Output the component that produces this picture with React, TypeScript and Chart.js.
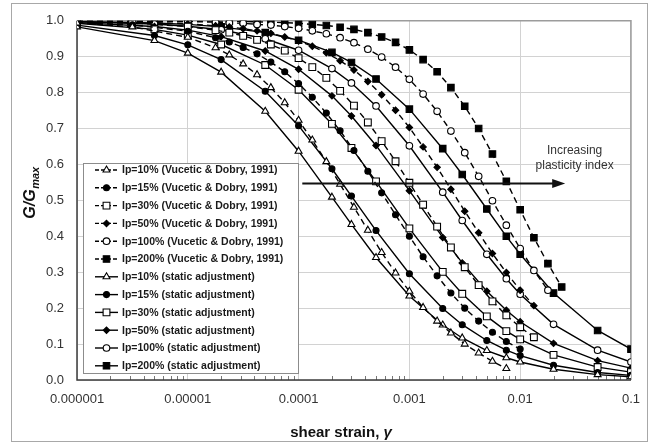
import React, { useEffect, useRef } from 'react';
import { Chart, registerables } from 'chart.js';
import { drawPoint } from 'chart.js/helpers';

Chart.register(...registerables);

// ---------- data ----------
const strainStatic = [1e-6, 5e-6, 1e-5, 2e-5, 5e-5, 1e-4, 2e-4, 3e-4, 5e-4, 1e-3, 2e-3, 3e-3, 5e-3, 7.5e-3, 1e-2, 2e-2, 5e-2, 1e-1];
const static10 = [0.983, 0.945, 0.910, 0.857, 0.748, 0.637, 0.509, 0.433, 0.341, 0.234, 0.153, 0.117, 0.082, 0.062, 0.050, 0.030, 0.015, 0.009];
const static15 = [0.988, 0.959, 0.933, 0.892, 0.804, 0.708, 0.588, 0.512, 0.416, 0.296, 0.199, 0.154, 0.110, 0.083, 0.068, 0.041, 0.021, 0.013];
const static30 = [0.993, 0.976, 0.960, 0.934, 0.877, 0.808, 0.713, 0.646, 0.553, 0.422, 0.301, 0.240, 0.177, 0.136, 0.113, 0.070, 0.036, 0.022];
const static50 = [0.995, 0.984, 0.974, 0.956, 0.916, 0.865, 0.791, 0.735, 0.653, 0.527, 0.397, 0.326, 0.247, 0.194, 0.162, 0.102, 0.054, 0.033];
const static100 = [0.997, 0.991, 0.985, 0.975, 0.950, 0.918, 0.867, 0.827, 0.763, 0.652, 0.523, 0.444, 0.350, 0.282, 0.239, 0.155, 0.083, 0.050];
const static200 = [0.998, 0.994, 0.990, 0.983, 0.967, 0.946, 0.912, 0.884, 0.838, 0.754, 0.644, 0.572, 0.476, 0.400, 0.350, 0.242, 0.138, 0.086];

const strainVD = [1e-6, 3.16e-6, 1e-5, 1.78e-5, 2.37e-5, 3.16e-5, 4.22e-5, 5.62e-5, 7.5e-5, 1e-4, 1.33e-4, 1.78e-4, 2.37e-4, 3.16e-4, 4.22e-4, 5.62e-4, 7.5e-4, 1e-3, 1.33e-3, 1.78e-3, 2.37e-3, 3.16e-3, 4.22e-3, 5.62e-3, 7.5e-3, 1e-2, 1.33e-2, 1.78e-2, 2.37e-2];
const vd10 = [0.994, 0.983, 0.954, 0.925, 0.905, 0.880, 0.850, 0.814, 0.772, 0.723, 0.668, 0.608, 0.545, 0.481, 0.417, 0.355, 0.298, 0.247, 0.202, 0.164, 0.131, 0.100, 0.075, 0.052, 0.032, null, null, null, null];
const vd15 = [0.996, 0.989, 0.971, 0.953, 0.941, 0.926, 0.908, 0.885, 0.858, 0.825, 0.787, 0.743, 0.694, 0.639, 0.581, 0.521, 0.460, 0.400, 0.343, 0.290, 0.242, 0.200, 0.164, 0.133, 0.107, 0.086, null, null, null];
const vd30 = [0.998, 0.994, 0.984, 0.974, 0.967, 0.958, 0.947, 0.934, 0.917, 0.896, 0.871, 0.841, 0.805, 0.764, 0.717, 0.665, 0.609, 0.549, 0.488, 0.427, 0.369, 0.314, 0.264, 0.219, 0.180, 0.147, 0.119, null, null];
const vd50 = [0.999, 0.997, 0.992, 0.986, 0.983, 0.978, 0.972, 0.965, 0.955, 0.944, 0.929, 0.911, 0.889, 0.863, 0.831, 0.794, 0.751, 0.703, 0.649, 0.592, 0.531, 0.470, 0.410, 0.352, 0.299, 0.250, 0.207, null, null];
const vd100 = [1.000, 0.999, 0.998, 0.996, 0.994, 0.993, 0.990, 0.988, 0.984, 0.979, 0.972, 0.964, 0.953, 0.939, 0.921, 0.899, 0.871, 0.837, 0.796, 0.748, 0.693, 0.633, 0.567, 0.499, 0.431, 0.366, 0.305, 0.250, null];
const vd200 = [1.000, 1.000, 0.999, 0.999, 0.999, 0.998, 0.997, 0.996, 0.995, 0.993, 0.990, 0.987, 0.982, 0.976, 0.967, 0.955, 0.940, 0.919, 0.892, 0.858, 0.814, 0.762, 0.700, 0.629, 0.553, 0.474, 0.396, 0.324, 0.259];

const xTickValues = [1e-6, 1e-5, 1e-4, 1e-3, 1e-2, 1e-1];
const xTickLabels = ['0.000001', '0.00001', '0.0001', '0.001', '0.01', '0.1'];
const xTitle = 'shear strain, ';
const xTitleSymbol = 'γ';
const yTitleMain = 'G/G';
const yTitleSub = 'max';

const labelsVD = [
  'Ip=10% (Vucetic & Dobry, 1991)',
  'Ip=15% (Vucetic & Dobry, 1991)',
  'Ip=30% (Vucetic & Dobry, 1991)',
  'Ip=50% (Vucetic & Dobry, 1991)',
  'Ip=100% (Vucetic & Dobry, 1991)',
  'Ip=200% (Vucetic & Dobry, 1991)',
];
const labelsStatic = [
  'Ip=10% (static adjustment)',
  'Ip=15% (static adjustment)',
  'Ip=30% (static adjustment)',
  'Ip=50% (static adjustment)',
  'Ip=100% (static adjustment)',
  'Ip=200% (static adjustment)',
];

// annotation (data coordinates)
const arrowStrainFrom = 1.08e-4;
const arrowStrainTo = 0.0255;
const arrowG = 0.548;
const noteStrain = 0.031;
const noteLines = ['Increasing', 'plasticity index'];
const noteG = [0.639, 0.598];

// marker styles per Ip group: [style, filled, radius]
const markerStyles: [string, boolean, number][] = [
  ['triangle', false, 4],
  ['circle', true, 3],
  ['rect', false, 4.8],
  ['rectRot', true, 3.2],
  ['circle', false, 3.3],
  ['rect', true, 4.6],
];

const FONT = "'Liberation Sans', Arial, sans-serif";

function makeSet(label: string, xs: number[], ys: (number | null)[], idx: number, dashed: boolean) {
  const [style, filled, r] = markerStyles[idx];
  const pts = xs.map((x, i) => ({ x, y: ys[i] })).filter((p) => p.y !== null);
  return {
    label,
    data: pts,
    borderColor: '#000',
    borderWidth: 1.4,
    borderDash: dashed ? [6, 4] : [],
    pointStyle: style,
    pointRadius: r,
    pointBackgroundColor: filled ? '#000' : '#fff',
    pointBorderColor: '#000',
    pointBorderWidth: 1.1,
    tension: 0,
    fill: false,
  };
}

const decoPlugin = {
  id: 'deco',
  beforeDraw(chart: any) {
    const { ctx, width, height } = chart;
    ctx.save();
    ctx.fillStyle = '#fff';
    ctx.fillRect(0, 0, width, height);
    ctx.strokeStyle = '#a8a8a8';
    ctx.lineWidth = 1;
    ctx.strokeRect(11.5, 3.5, 636, 438);
    ctx.restore();
  },
  beforeDatasetsDraw(chart: any) {
    const { ctx, chartArea: a, scales } = chart;
    const xs = scales.x;
    ctx.save();
    ctx.strokeStyle = '#777';
    ctx.lineWidth = 1;
    for (let e = -6; e < -1; e++) {
      for (let m = 2; m <= 9; m++) {
        const px = Math.round(xs.getPixelForValue(m * Math.pow(10, e))) + 0.5;
        ctx.beginPath();
        ctx.moveTo(px, a.bottom);
        ctx.lineTo(px, a.bottom - 4);
        ctx.stroke();
      }
    }
    ctx.lineWidth = 1.5;
    ctx.strokeStyle = '#9c9c9c';
    ctx.beginPath();
    ctx.moveTo(a.left, a.top);
    ctx.lineTo(a.right, a.top);
    ctx.lineTo(a.right, a.bottom);
    ctx.stroke();
    ctx.strokeStyle = '#3c3c3c';
    ctx.beginPath();
    ctx.moveTo(a.left, a.top);
    ctx.lineTo(a.left, a.bottom);
    ctx.lineTo(a.right, a.bottom);
    ctx.stroke();
    ctx.restore();
  },
  afterDatasetsDraw(chart: any) {
    const { ctx, chartArea: a, scales } = chart;
    const xs = scales.x;
    const ys = scales.y;
    ctx.save();

    // arrow
    const ay = Math.round(ys.getPixelForValue(arrowG)) + 0.5;
    const ax1 = xs.getPixelForValue(arrowStrainFrom);
    const ax2 = xs.getPixelForValue(arrowStrainTo);
    ctx.strokeStyle = '#111';
    ctx.fillStyle = '#111';
    ctx.lineWidth = 2.2;
    ctx.beginPath();
    ctx.moveTo(ax1, ay);
    ctx.lineTo(ax2 - 10, ay);
    ctx.stroke();
    ctx.beginPath();
    ctx.moveTo(ax2, ay);
    ctx.lineTo(ax2 - 13, ay - 4.5);
    ctx.lineTo(ax2 - 13, ay + 4.5);
    ctx.closePath();
    ctx.fill();

    // note
    ctx.fillStyle = '#333';
    ctx.font = `12px ${FONT}`;
    ctx.textAlign = 'center';
    ctx.textBaseline = 'middle';
    const nx = xs.getPixelForValue(noteStrain);
    noteLines.forEach((t, i) => ctx.fillText(t, nx, ys.getPixelForValue(noteG[i])));

    // legend
    const sets = chart.data.datasets;
    const lx = a.left + 6;
    const rowH = 17.8;
    const lh = 210;
    const ly = a.bottom - 7 - lh;
    const lw = 215;
    ctx.fillStyle = '#fff';
    ctx.fillRect(lx, ly, lw, lh);
    ctx.strokeStyle = '#8c8c8c';
    ctx.lineWidth = 1;
    ctx.strokeRect(Math.round(lx) + 0.5, Math.round(ly) + 0.5, lw, lh);
    sets.forEach((ds: any, i: number) => {
      const cy = ly + 7 + i * rowH;
      ctx.strokeStyle = '#000';
      ctx.lineWidth = 1.4;
      ctx.setLineDash(ds.borderDash && ds.borderDash.length ? [4, 2] : []);
      ctx.beginPath();
      ctx.moveTo(lx + 12, cy);
      ctx.lineTo(lx + 35, cy);
      ctx.stroke();
      ctx.setLineDash([]);
      ctx.fillStyle = ds.pointBackgroundColor;
      ctx.strokeStyle = '#000';
      ctx.lineWidth = ds.pointBorderWidth;
      drawPoint(ctx, { pointStyle: ds.pointStyle, radius: ds.pointRadius, rotation: 0, borderWidth: ds.pointBorderWidth }, lx + 23.5, cy);
      ctx.fillStyle = '#1a1a1a';
      ctx.font = `bold 10.5px ${FONT}`;
      ctx.textAlign = 'left';
      ctx.textBaseline = 'middle';
      ctx.fillText(ds.label, lx + 39, cy + 0.5);
    });
    ctx.restore();
  },
  afterDraw(chart: any) {
    const { ctx } = chart;
    ctx.save();
    ctx.fillStyle = '#111';
    ctx.textBaseline = 'alphabetic';
    // x title
    ctx.font = `bold 15px ${FONT}`;
    const w1 = ctx.measureText(xTitle).width;
    ctx.font = `italic bold 15px ${FONT}`;
    const w2 = ctx.measureText(xTitleSymbol).width;
    const tx = 341 - (w1 + w2) / 2;
    ctx.textAlign = 'left';
    ctx.font = `bold 15px ${FONT}`;
    ctx.fillText(xTitle, tx, 437);
    ctx.font = `italic bold 15px ${FONT}`;
    ctx.fillText(xTitleSymbol, tx + w1, 437);
    // y title
    ctx.translate(35, 193);
    ctx.rotate(-Math.PI / 2);
    ctx.font = `italic bold 16px ${FONT}`;
    const m1 = ctx.measureText(yTitleMain).width;
    ctx.font = `italic bold 11px ${FONT}`;
    const m2 = ctx.measureText(yTitleSub).width;
    const sx = -(m1 + m2) / 2;
    ctx.font = `italic bold 16px ${FONT}`;
    ctx.fillText(yTitleMain, sx, 0);
    ctx.font = `italic bold 11px ${FONT}`;
    ctx.fillText(yTitleSub, sx + m1 + 0.5, 4);
    ctx.restore();
  },
};

export default function App() {
  const ref = useRef<HTMLCanvasElement | null>(null);
  useEffect(() => {
    if (!ref.current) return;
    const datasets = [
      makeSet(labelsVD[0], strainVD, vd10, 0, true),
      makeSet(labelsVD[1], strainVD, vd15, 1, true),
      makeSet(labelsVD[2], strainVD, vd30, 2, true),
      makeSet(labelsVD[3], strainVD, vd50, 3, true),
      makeSet(labelsVD[4], strainVD, vd100, 4, true),
      makeSet(labelsVD[5], strainVD, vd200, 5, true),
      makeSet(labelsStatic[0], strainStatic, static10, 0, false),
      makeSet(labelsStatic[1], strainStatic, static15, 1, false),
      makeSet(labelsStatic[2], strainStatic, static30, 2, false),
      makeSet(labelsStatic[3], strainStatic, static50, 3, false),
      makeSet(labelsStatic[4], strainStatic, static100, 4, false),
      makeSet(labelsStatic[5], strainStatic, static200, 5, false),
    ];
    const chart = new Chart(ref.current, {
      type: 'line',
      data: { datasets } as any,
      plugins: [decoPlugin],
      options: {
        animation: false,
        responsive: false,
        devicePixelRatio: 1,
        layout: { padding: { top: 17, right: 19, left: 0, bottom: 0 } },
        plugins: { legend: { display: false }, tooltip: { enabled: false } },
        scales: {
          x: {
            type: 'logarithmic',
            min: 1e-6,
            max: 0.1,
            afterBuildTicks: (s: any) => {
              s.ticks = xTickValues.map((v) => ({ value: v }));
            },
            afterFit: (s: any) => {
              s.height = 65;
            },
            ticks: {
              autoSkip: false,
              maxRotation: 0,
              padding: 12,
              color: '#333',
              font: { size: 13, family: FONT },
              callback: (v: any) => {
                const i = xTickValues.findIndex((t) => Math.abs(Math.log10(t) - Math.log10(Number(v))) < 1e-6);
                return i >= 0 ? xTickLabels[i] : '';
              },
            },
            grid: { color: '#d2d2d2', lineWidth: 1, drawTicks: false },
            border: { display: false },
          },
          y: {
            type: 'linear',
            min: 0,
            max: 1,
            afterFit: (s: any) => {
              s.width = 77;
            },
            ticks: {
              stepSize: 0.1,
              padding: 13,
              color: '#333',
              font: { size: 13, family: FONT },
              callback: (v: any) => Number(v).toFixed(1),
            },
            grid: { color: '#d2d2d2', lineWidth: 1, drawTicks: false },
            border: { display: false },
          },
        },
      } as any,
    });
    return () => chart.destroy();
  }, []);
  return (
    <div style={{ position: 'absolute', left: 0, top: 0, width: 652, height: 445 }}>
      <canvas ref={ref} width={652} height={445} style={{ display: 'block', width: 652, height: 445 }} />
    </div>
  );
}
